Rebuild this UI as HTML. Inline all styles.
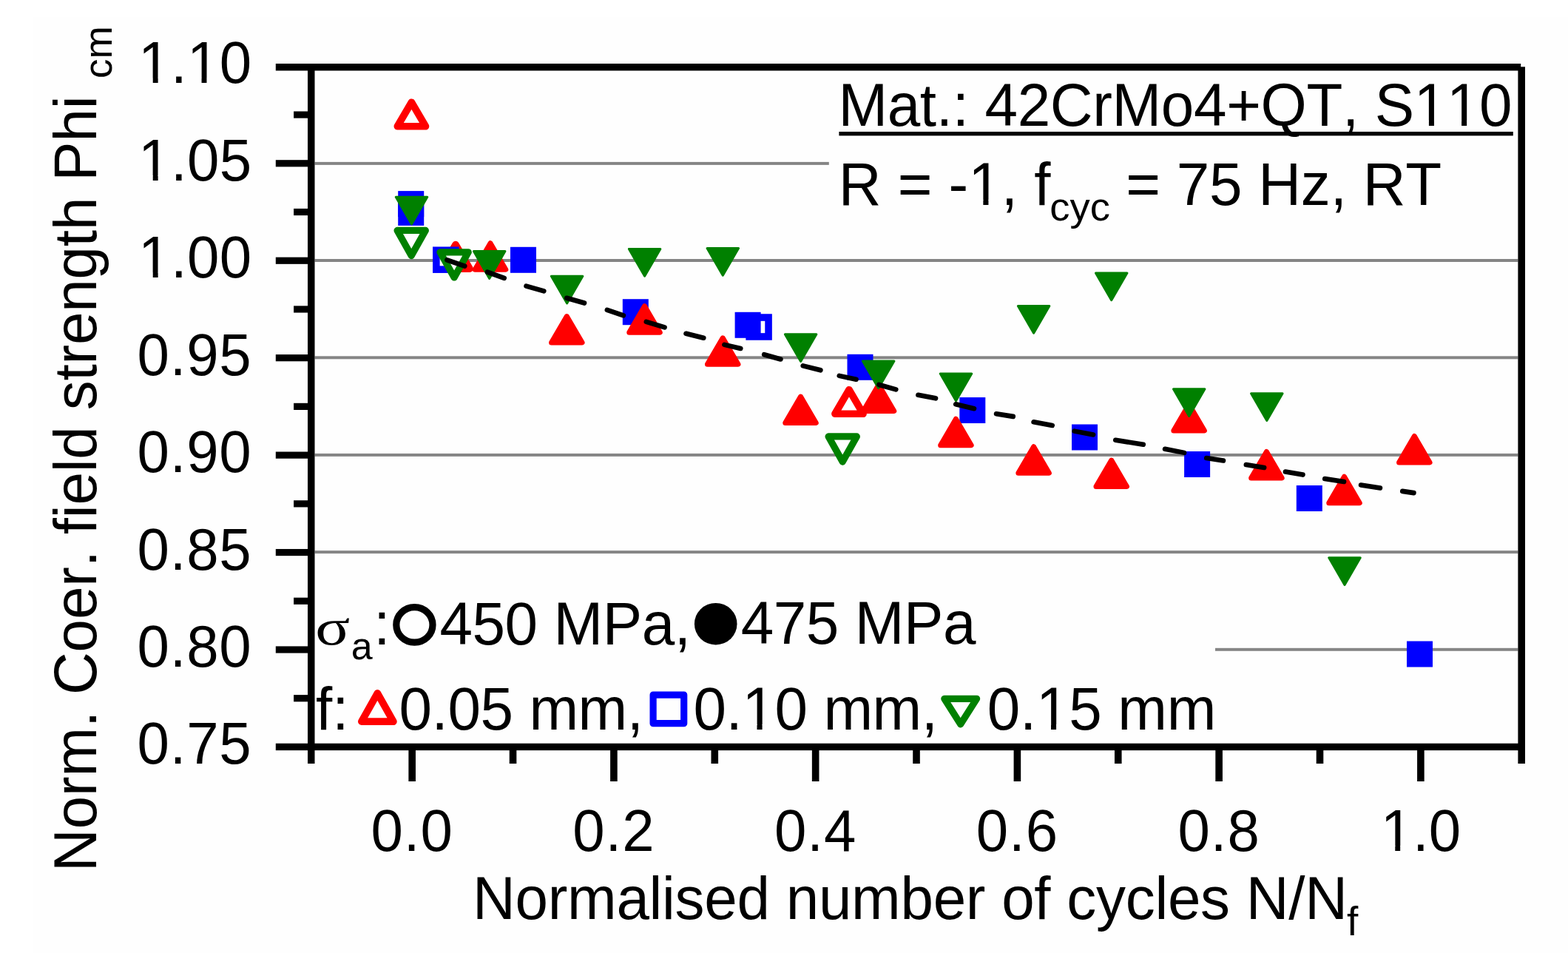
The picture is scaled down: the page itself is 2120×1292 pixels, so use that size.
<!DOCTYPE html>
<html><head><meta charset="utf-8"><title>Normalised coercive field strength vs. normalised number of cycles</title>
<style>html,body{margin:0;padding:0;background:#fff;overflow:hidden}svg{display:block}text{font-family:'Liberation Sans', Arial, sans-serif;fill:#000;font-kerning:none}.s{font-family:'Liberation Serif', 'Times New Roman', serif}</style></head><body>
<svg width="2120" height="1292" viewBox="0 0 2120 1292">
<rect x="0" y="0" width="2120" height="1292" fill="#ffffff"/>
<rect x="45" y="23" width="2075" height="1265" fill="#fefefe"/>
<g id="grid">
<rect x="425.5" y="218.9" width="695.3" height="4" fill="#858585"/>
<rect x="425.5" y="350" width="1626.9" height="4" fill="#858585"/>
<rect x="425.5" y="481.3" width="1626.9" height="4" fill="#858585"/>
<rect x="425.5" y="612.9" width="1626.9" height="4" fill="#858585"/>
<rect x="425.5" y="744.1" width="1626.9" height="4" fill="#858585"/>
<rect x="1643" y="875.8" width="409.4" height="4" fill="#858585"/>
</g>
<g id="open">
<path d="M556.4 138.25L575.45 170.75L537.35 170.75Z" fill="#fff" stroke="#ff0000" stroke-width="9.7" stroke-linejoin="round"/>
<path d="M616 330.65L635.05 363.15L596.95 363.15Z" fill="#fff" stroke="#ff0000" stroke-width="9.7" stroke-linejoin="round"/>
<path d="M1148 526.75L1167.05 559.25L1128.95 559.25Z" fill="#fff" stroke="#ff0000" stroke-width="9.7" stroke-linejoin="round"/>
<rect x="589.85" y="338.25" width="25.9" height="25.9" fill="#fff" stroke="#0000ff" stroke-width="9.6"/>
<rect x="1013.15" y="429.05" width="25.9" height="25.9" fill="#fff" stroke="#0000ff" stroke-width="9.6"/>
<path d="M537.1 311.45L575.3 311.45L556.2 345.55Z" fill="#fff" stroke="#008000" stroke-width="9.3" stroke-linejoin="round"/>
<path d="M595 340.85L633.2 340.85L614.1 374.95Z" fill="#fff" stroke="#008000" stroke-width="9.3" stroke-linejoin="round"/>
<path d="M1120.1 589.95L1158.3 589.95L1139.2 624.05Z" fill="#fff" stroke="#008000" stroke-width="9.3" stroke-linejoin="round"/>
</g>
<g id="filled">
<rect x="538.2" y="258.1" width="35" height="35" fill="#0000ff"/>
<rect x="538.2" y="269.9" width="35" height="35" fill="#0000ff"/>
<rect x="690" y="333.8" width="35" height="35" fill="#0000ff"/>
<rect x="841.8" y="404.2" width="35" height="35" fill="#0000ff"/>
<rect x="993.6" y="421.8" width="35" height="35" fill="#0000ff"/>
<rect x="1145.5" y="478.8" width="35" height="35" fill="#0000ff"/>
<rect x="1297.3" y="537" width="35" height="35" fill="#0000ff"/>
<rect x="1449" y="573.5" width="35" height="35" fill="#0000ff"/>
<rect x="1601.1" y="610" width="35" height="35" fill="#0000ff"/>
<rect x="1752.8" y="656" width="35" height="35" fill="#0000ff"/>
<rect x="1902" y="866.5" width="35" height="35" fill="#0000ff"/>
<path d="M663 328.75L683.75 364.25L642.25 364.25Z" fill="#ff0000" stroke="#ff0000" stroke-width="7" stroke-linejoin="round"/>
<path d="M766.3 427.55L787.05 463.05L745.55 463.05Z" fill="#ff0000" stroke="#ff0000" stroke-width="7" stroke-linejoin="round"/>
<path d="M871.5 413.65L892.25 449.15L850.75 449.15Z" fill="#ff0000" stroke="#ff0000" stroke-width="7" stroke-linejoin="round"/>
<path d="M977.2 456.85L997.95 492.35L956.45 492.35Z" fill="#ff0000" stroke="#ff0000" stroke-width="7" stroke-linejoin="round"/>
<path d="M1082.5 536.05L1103.25 571.55L1061.75 571.55Z" fill="#ff0000" stroke="#ff0000" stroke-width="7" stroke-linejoin="round"/>
<path d="M1188 519.95L1208.75 555.45L1167.25 555.45Z" fill="#ff0000" stroke="#ff0000" stroke-width="7" stroke-linejoin="round"/>
<path d="M1292.4 566.25L1313.15 601.75L1271.65 601.75Z" fill="#ff0000" stroke="#ff0000" stroke-width="7" stroke-linejoin="round"/>
<path d="M1397.6 603.75L1418.35 639.25L1376.85 639.25Z" fill="#ff0000" stroke="#ff0000" stroke-width="7" stroke-linejoin="round"/>
<path d="M1502.7 622.05L1523.45 657.55L1481.95 657.55Z" fill="#ff0000" stroke="#ff0000" stroke-width="7" stroke-linejoin="round"/>
<path d="M1607.6 546.45L1628.35 581.95L1586.85 581.95Z" fill="#ff0000" stroke="#ff0000" stroke-width="7" stroke-linejoin="round"/>
<path d="M1712.4 610.45L1733.15 645.95L1691.65 645.95Z" fill="#ff0000" stroke="#ff0000" stroke-width="7" stroke-linejoin="round"/>
<path d="M1817.5 644.25L1838.25 679.75L1796.75 679.75Z" fill="#ff0000" stroke="#ff0000" stroke-width="7" stroke-linejoin="round"/>
<path d="M1912.3 589.45L1933.05 624.95L1891.55 624.95Z" fill="#ff0000" stroke="#ff0000" stroke-width="7" stroke-linejoin="round"/>
<path d="M535.25 266.2L577.75 266.2L556.5 303Z" fill="#008000" stroke="#008000" stroke-width="3" stroke-linejoin="round"/>
<path d="M640.45 339.6L682.95 339.6L661.7 376.4Z" fill="#008000" stroke="#008000" stroke-width="3" stroke-linejoin="round"/>
<path d="M745.35 373.2L787.85 373.2L766.6 410Z" fill="#008000" stroke="#008000" stroke-width="3" stroke-linejoin="round"/>
<path d="M850.35 336.4L892.85 336.4L871.6 373.2Z" fill="#008000" stroke="#008000" stroke-width="3" stroke-linejoin="round"/>
<path d="M956.05 335.5L998.55 335.5L977.3 372.3Z" fill="#008000" stroke="#008000" stroke-width="3" stroke-linejoin="round"/>
<path d="M1061.35 451.7L1103.85 451.7L1082.6 488.5Z" fill="#008000" stroke="#008000" stroke-width="3" stroke-linejoin="round"/>
<path d="M1166.45 487.9L1208.95 487.9L1187.7 524.7Z" fill="#008000" stroke="#008000" stroke-width="3" stroke-linejoin="round"/>
<path d="M1271.25 505L1313.75 505L1292.5 541.8Z" fill="#008000" stroke="#008000" stroke-width="3" stroke-linejoin="round"/>
<path d="M1376.35 413.5L1418.85 413.5L1397.6 450.3Z" fill="#008000" stroke="#008000" stroke-width="3" stroke-linejoin="round"/>
<path d="M1481.45 369L1523.95 369L1502.7 405.8Z" fill="#008000" stroke="#008000" stroke-width="3" stroke-linejoin="round"/>
<path d="M1586.45 525.7L1628.95 525.7L1607.7 562.5Z" fill="#008000" stroke="#008000" stroke-width="3" stroke-linejoin="round"/>
<path d="M1691.55 531.7L1734.05 531.7L1712.8 568.5Z" fill="#008000" stroke="#008000" stroke-width="3" stroke-linejoin="round"/>
<path d="M1796.75 753.7L1839.25 753.7L1818 790.5Z" fill="#008000" stroke="#008000" stroke-width="3" stroke-linejoin="round"/>
</g>
<path d="M604.42 351.38L628.28 359.62M658.9 367.62L681.7 375.88M711.48 386.69L735.32 393.41M766.18 402.79L790.02 409.51M820.83 418.95L842.87 426.35M873.76 434.95L898.54 442.45M927.5 450.8L951.3 456.7M979.41 465.85L1001.29 470.95M1033.18 479.2L1055.42 485.5M1085.7 494.4L1109.4 500.3M1134.73 507.88L1157.57 512.72M1188.48 519.98L1211.32 526.32M1241.34 533.81L1265.06 538.29M1292.21 546.27L1316.99 552.23M1347.06 559.22L1369.74 562.88M1397.55 570.29L1422.75 574.91M1452.54 582.62L1478.16 587.48M1508.26 594.73L1545.74 600.77M1575.04 606.83L1601.16 611.87M1631.26 619.09L1653.94 622.51M1684.86 628.11L1709.14 631.89M1737.95 637.55L1761.45 641.55M1791.26 647.09L1817.04 651.01M1840.06 655.5L1865.94 659.5M1896.26 663.88L1911.44 666.12" fill="none" stroke="#000" stroke-width="6.6" stroke-linecap="round"/>
<g id="axes" fill="#000">
<rect x="372.8" y="86" width="1683.4" height="9.5"/>
<rect x="416" y="86" width="9.5" height="946"/>
<rect x="2052.4" y="90.3" width="9.6" height="941.7"/>
<rect x="372.8" y="1004.7" width="1689.2" height="9.4"/>
<rect x="397.1" y="150.48" width="24" height="9.2"/>
<rect x="372.8" y="216.2" width="48" height="9.2"/>
<rect x="397.1" y="281.92" width="24" height="9.2"/>
<rect x="372.8" y="347.64" width="48" height="9.2"/>
<rect x="397.1" y="413.36" width="24" height="9.2"/>
<rect x="372.8" y="479.08" width="48" height="9.2"/>
<rect x="397.1" y="544.8" width="24" height="9.2"/>
<rect x="372.8" y="610.52" width="48" height="9.2"/>
<rect x="397.1" y="676.24" width="24" height="9.2"/>
<rect x="372.8" y="741.96" width="48" height="9.2"/>
<rect x="397.1" y="807.68" width="24" height="9.2"/>
<rect x="372.8" y="873.4" width="48" height="9.2"/>
<rect x="397.1" y="939.12" width="24" height="9.2"/>
<rect x="552.37" y="1009" width="9.6" height="47"/>
<rect x="688.74" y="1009" width="9.6" height="23"/>
<rect x="825.11" y="1009" width="9.6" height="47"/>
<rect x="961.48" y="1009" width="9.6" height="23"/>
<rect x="1097.85" y="1009" width="9.6" height="47"/>
<rect x="1234.22" y="1009" width="9.6" height="23"/>
<rect x="1370.59" y="1009" width="9.6" height="47"/>
<rect x="1506.96" y="1009" width="9.6" height="23"/>
<rect x="1643.33" y="1009" width="9.6" height="47"/>
<rect x="1779.7" y="1009" width="9.6" height="23"/>
<rect x="1916.07" y="1009" width="9.6" height="47"/>
</g>
<g id="ticklabels">
<text transform="translate(340.5 112.36) scale(1 1.01)" font-size="78" text-anchor="end" letter-spacing="0.4">1.10</text>
<text transform="translate(340.5 243.8) scale(1 1.01)" font-size="78" text-anchor="end" letter-spacing="0.4">1.05</text>
<text transform="translate(340.5 375.24) scale(1 1.01)" font-size="78" text-anchor="end" letter-spacing="0.4">1.00</text>
<text transform="translate(340.5 506.68) scale(1 1.01)" font-size="78" text-anchor="end" letter-spacing="0.8">0.95</text>
<text transform="translate(340.5 638.12) scale(1 1.01)" font-size="78" text-anchor="end" letter-spacing="0.8">0.90</text>
<text transform="translate(340.5 769.56) scale(1 1.01)" font-size="78" text-anchor="end" letter-spacing="0.8">0.85</text>
<text transform="translate(340.5 901) scale(1 1.01)" font-size="78" text-anchor="end" letter-spacing="0.8">0.80</text>
<text transform="translate(340.5 1032.44) scale(1 1.01)" font-size="78" text-anchor="end" letter-spacing="0.8">0.75</text>
<text transform="translate(557.17 1149.5) scale(1 1.01)" font-size="78" text-anchor="middle" letter-spacing="1.0">0.0</text>
<text transform="translate(829.91 1149.5) scale(1 1.01)" font-size="78" text-anchor="middle" letter-spacing="1.0">0.2</text>
<text transform="translate(1102.65 1149.5) scale(1 1.01)" font-size="78" text-anchor="middle" letter-spacing="1.0">0.4</text>
<text transform="translate(1375.39 1149.5) scale(1 1.01)" font-size="78" text-anchor="middle" letter-spacing="1.0">0.6</text>
<text transform="translate(1648.13 1149.5) scale(1 1.01)" font-size="78" text-anchor="middle" letter-spacing="1.0">0.8</text>
<text transform="translate(1920.87 1149.5) scale(1 1.01)" font-size="78" text-anchor="middle" letter-spacing="0">1.0</text>
</g>
<text transform="translate(129.5 1177.9) rotate(-90) scale(1 1.015)" font-size="80" letter-spacing="-0.18">Norm. Coer. field strength Phi</text>
<text transform="translate(150.9 105.9) rotate(-90)" font-size="53">cm</text>
<text transform="translate(639 1242.2) scale(1 1.015)" font-size="80" letter-spacing="-0.28">Normalised number of cycles N/N</text>
<text transform="translate(1821.1 1264)" font-size="55">f</text>
<text transform="translate(1133.4 169.7) scale(1 1.03)" font-size="80" letter-spacing="-0.32">Mat.: 42CrMo4+QT, S110</text>
<rect x="1134.4" y="178" width="911.4" height="5.4" fill="#000"/>
<text transform="translate(1133.7 276.9) scale(1 1.03)" font-size="80">R = -1, f</text>
<text transform="translate(1419.3 297.9) scale(1 0.96)" font-size="54.4">cyc</text>
<text transform="translate(1522.2 276.9) scale(1 1.03)" font-size="80" letter-spacing="-0.2">= 75 Hz, RT</text>
<text transform="translate(426.3 870.7) scale(1.088 0.873)" font-size="80" class="s">&#963;</text>
<text transform="translate(474.8 891.2)" font-size="52">a</text>
<text transform="translate(505.2 870.7) scale(1 1.03)" font-size="80">:</text>
<ellipse cx="560.4" cy="844.4" rx="24.6" ry="23.8" fill="none" stroke="#000" stroke-width="9.2"/>
<text transform="translate(594.4 870.6) scale(1 1.03)" font-size="80" letter-spacing="-0.4">450 MPa,</text>
<ellipse cx="967.7" cy="843.2" rx="28.8" ry="28.3" fill="#000"/>
<text transform="translate(1001.7 870.4) scale(1 1.03)" font-size="80" letter-spacing="-0.4">475 MPa</text>
<text transform="translate(427 986) scale(1 1.03)" font-size="80">f:</text>
<path d="M510.35 936.95L531.85 975.15L488.85 975.15Z" fill="none" stroke="#ff0000" stroke-width="9.7" stroke-linejoin="round"/>
<text transform="translate(539.5 985.8) scale(1 1.03)" font-size="80" letter-spacing="-0.4">0.05 mm,</text>
<rect x="883.1" y="939.1" width="41.6" height="38.6" fill="none" stroke="#0000ff" stroke-width="9.2" stroke-linejoin="round"/>
<text transform="translate(937.5 985.8) scale(1 1.03)" font-size="80" letter-spacing="-0.4">0.10 mm,</text>
<path d="M1276.8 944.3L1320.6 944.3L1298.7 978.8Z" fill="none" stroke="#008000" stroke-width="9.2" stroke-linejoin="round"/>
<text transform="translate(1334.7 985.8) scale(1 1.03)" font-size="80" letter-spacing="-0.25">0.15 mm</text>
<g id="onefix" fill="#fefefe">
<rect x="191.85" y="105.77" width="14.87" height="7.49"/>
<rect x="213.62" y="105.77" width="14.26" height="7.49"/>
<rect x="257.68" y="105.77" width="14.87" height="7.49"/>
<rect x="279.45" y="105.77" width="14.26" height="7.49"/>
<rect x="191.85" y="237.21" width="14.87" height="7.49"/>
<rect x="213.62" y="237.21" width="14.26" height="7.49"/>
<rect x="191.85" y="368.65" width="14.87" height="7.49"/>
<rect x="213.62" y="368.65" width="14.26" height="7.49"/>
<rect x="1871.41" y="1142.91" width="14.87" height="7.49"/>
<rect x="1893.17" y="1142.91" width="14.26" height="7.49"/>
<rect x="1916.69" y="162.84" width="15.22" height="7.76"/>
<rect x="1938.98" y="162.84" width="14.6" height="7.76"/>
<rect x="1960.85" y="162.84" width="15.22" height="7.76"/>
<rect x="1983.14" y="162.84" width="14.6" height="7.76"/>
<rect x="1314.13" y="270.04" width="15.22" height="7.76"/>
<rect x="1336.42" y="270.04" width="14.6" height="7.76"/>
<rect x="1008.29" y="978.94" width="15.22" height="7.76"/>
<rect x="1030.58" y="978.94" width="14.6" height="7.76"/>
<rect x="1405.78" y="978.94" width="15.22" height="7.76"/>
<rect x="1428.07" y="978.94" width="14.6" height="7.76"/>
</g>
</svg></body></html>
